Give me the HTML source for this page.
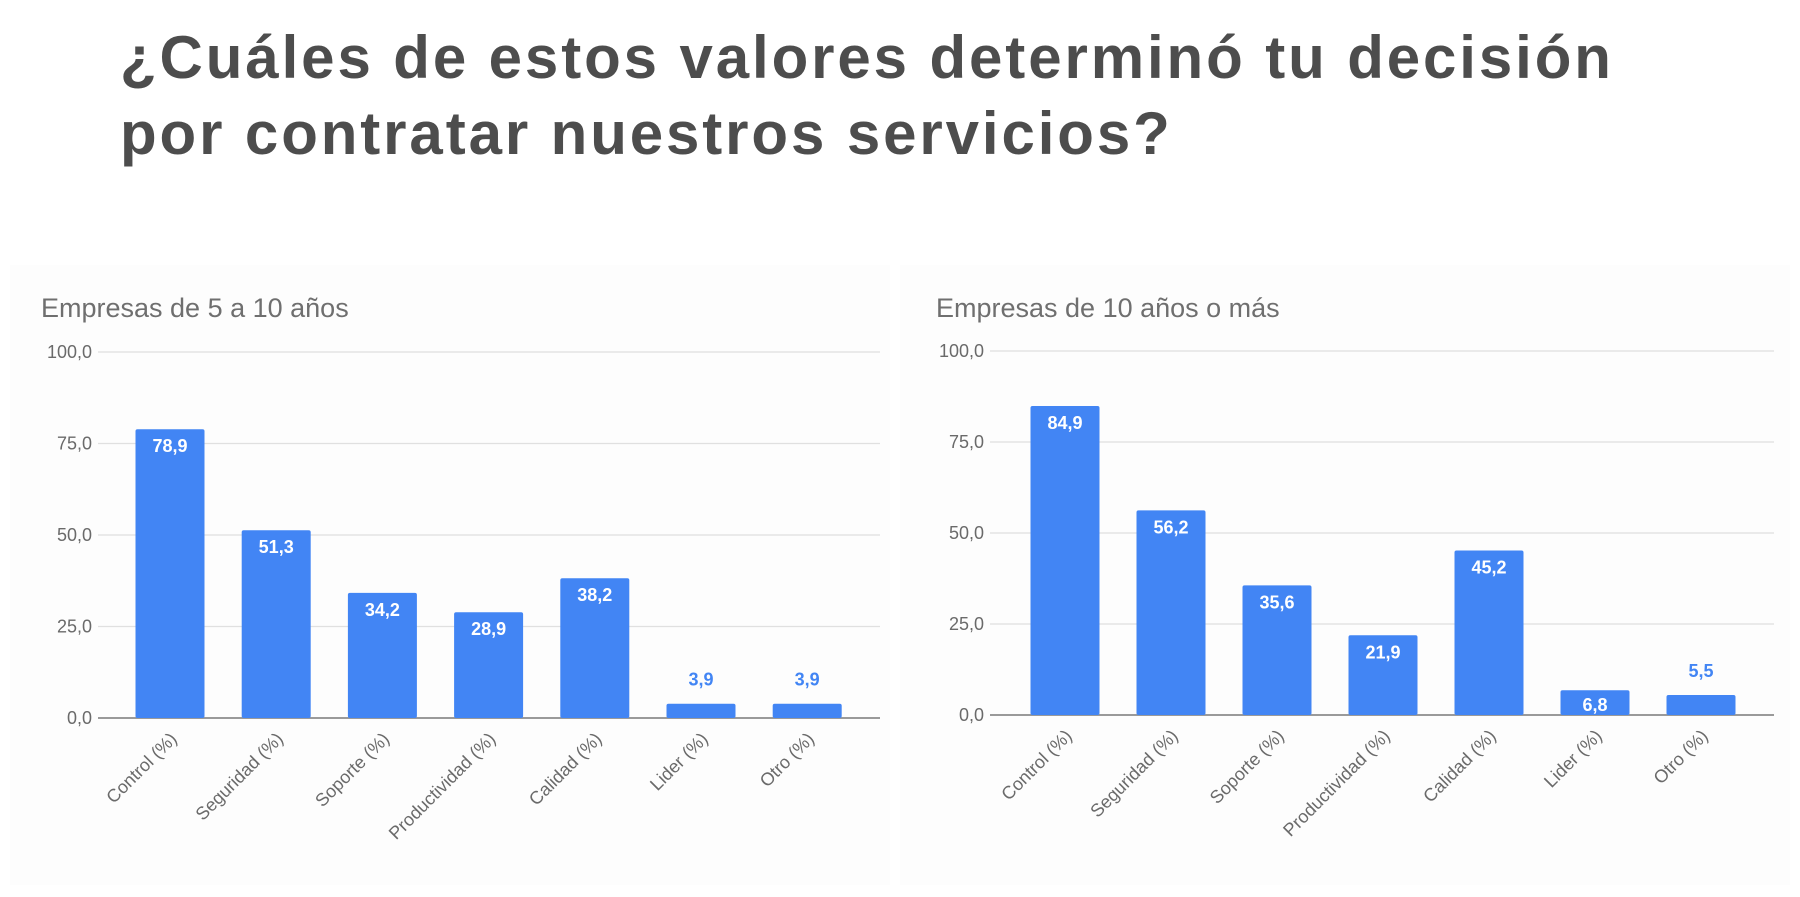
<!DOCTYPE html>
<html><head><meta charset="utf-8"><style>
body{margin:0;width:1800px;height:897px;background:#fff;overflow:hidden;font-family:"Liberation Sans",sans-serif}
h1{position:absolute;left:120px;top:20px;margin:0;font-size:60px;line-height:76px;font-weight:bold;color:#4d4d4d;letter-spacing:2.9px}
svg{position:absolute;left:0;top:0}
</style></head><body>
<h1>¿Cuáles de estos valores determinó tu decisión<br>por contratar nuestros servicios?</h1>
<svg id="s" width="1800" height="897"></svg>
<script>
const categories=["Control (%)","Seguridad (%)","Soporte (%)","Productividad  (%)","Calidad (%)","Lider (%)","Otro (%)"];
const valuesA=[78.9,51.3,34.2,28.9,38.2,3.9,3.9];
const valuesB=[84.9,56.2,35.6,21.9,45.2,6.8,5.5];
const ticks=[0,25,50,75,100];
const tickLabels=["0,0","25,0","50,0","75,0","100,0"];
const titles=["Empresas de 5 a 10 años","Empresas de 10 años o más"];
const NS="http://www.w3.org/2000/svg",svg=document.getElementById('s');
function el(t,a,txt){const e=document.createElementNS(NS,t);for(const k in a)e.setAttribute(k,a[k]);if(txt!=null)e.textContent=txt;svg.appendChild(e);return e;}
const fmt=v=>v.toFixed(1).replace('.',',');
function chart(vals,cfg,idx){
  const y=v=>cfg.y0-(v/100)*(cfg.y0-cfg.y100);
  const x=i=>cfg.c0+i*cfg.step;
  el('rect',{x:cfg.px,y:265,width:cfg.pw,height:620,fill:'#fdfdfd'});
  let t=el('text',{x:cfg.tx,y:317,'font-size':27,fill:'#6f6f6f'},titles[idx]);
  
  ticks.forEach((v,i)=>{
    let g=el('line',{x1:cfg.gx1,x2:cfg.gx2,y1:y(v),y2:y(v),stroke:v==0?'#9a9a9a':'#e0e0e0','stroke-width':v==0?2:1.3});
    
    let l=el('text',{x:cfg.gx1-6,y:y(v)+6,'font-size':18,fill:'#6a6a6a','text-anchor':'end'},tickLabels[i]);
    
  });
  vals.forEach((v,i)=>{
    const bw=69,top=y(v);
    let b=el('rect',{x:x(i)-bw/2,y:top,width:bw,height:cfg.y0-top,fill:'#4285f4',rx:2});
    
    const inside=(cfg.y0-top)>22;
    let vl=el('text',{x:x(i),y:inside?top+Math.min(23,(cfg.y0-top)-4):top-18,'font-size':18,'font-weight':'bold','text-anchor':'middle',fill:inside?'#fff':'#4285f4'},fmt(v));
    
    let xl=el('text',{x:x(i)+8,y:cfg.y0+22,'font-size':18,fill:'#6a6a6a','text-anchor':'end',transform:`rotate(-45 ${x(i)+8} ${cfg.y0+22})`},categories[i]);
    
  });
}
chart(valuesA,{px:10,pw:880,tx:41,gx1:98,gx2:880,y0:718,y100:352,c0:170,step:106.2},0);
chart(valuesB,{px:900,pw:890,tx:936,gx1:990,gx2:1774,y0:715,y100:351,c0:1065,step:106},1);
</script>
</body></html>
